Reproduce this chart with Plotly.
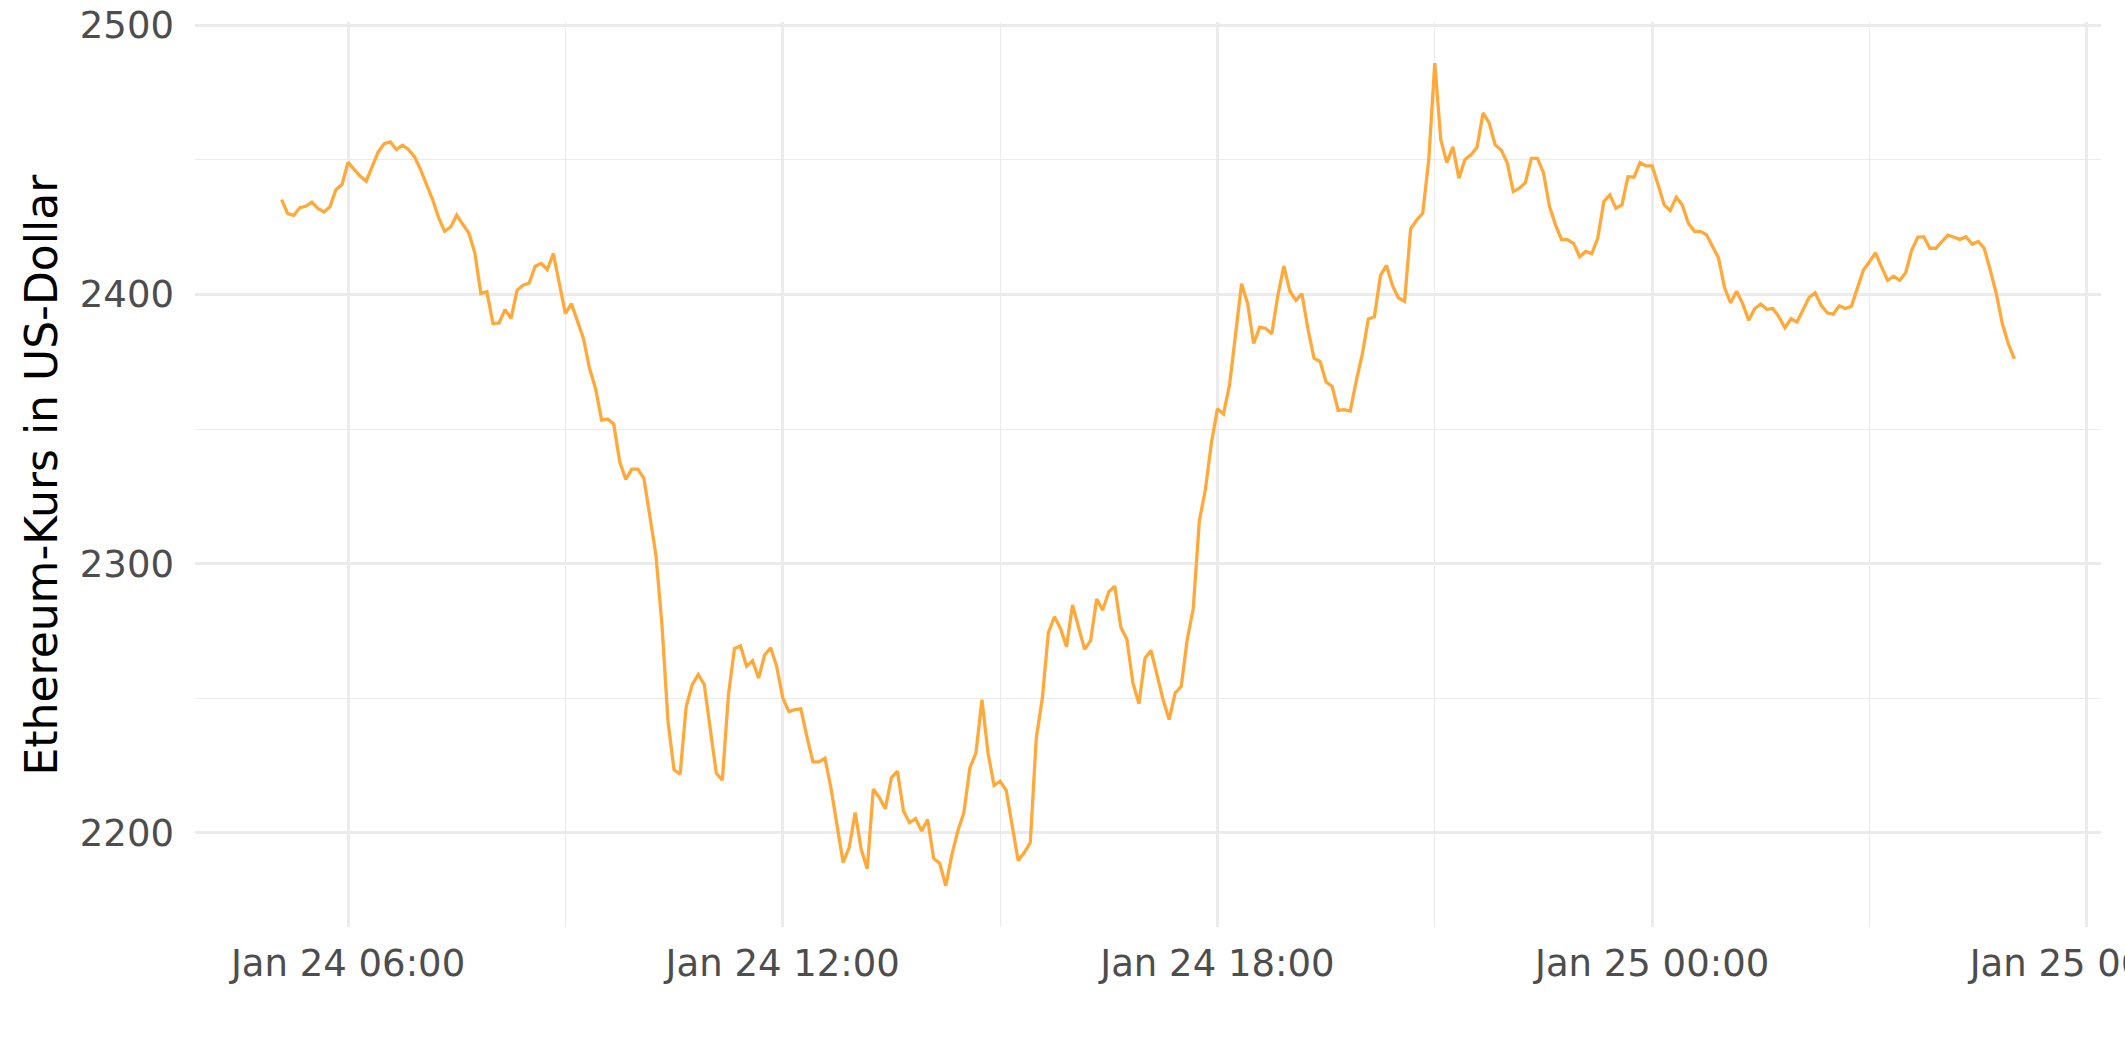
import pandas as pd
import plotly.graph_objects as go

# ---- data (5-minute Ethereum prices) ----
start_time = "2024-01-24 05:05"
interval = "5min"

price_usd = [
    # 05:05 - 09:00
    2435.3, 2430.1, 2429.4, 2432.3, 2432.8, 2434.3, 2432.0, 2430.7, 2432.6, 2439.0, 2440.9, 2449.1,
    2446.5, 2444.0, 2442.1, 2447.7, 2453.0, 2456.1, 2456.7, 2453.9, 2455.5, 2453.9, 2451.2, 2446.5,
    2441.0, 2435.3, 2428.6, 2423.5, 2425.1, 2429.5, 2426.1, 2422.9, 2415.5, 2400.4, 2401.0, 2389.2,
    2389.4, 2394.4, 2391.1, 2401.6, 2403.5, 2404.3, 2410.5, 2411.5, 2409.3, 2415.2, 2404.1, 2392.9,
    # 09:05 - 13:20
    2396.6, 2389.7, 2383.6, 2372.6, 2365.0, 2353.3, 2353.7, 2351.9, 2337.8, 2331.3, 2335.1, 2335.1,
    2331.7, 2317.5, 2303.1, 2277.0, 2241.2, 2223.3, 2221.7, 2246.7, 2255.0, 2258.8, 2255.0, 2238.4,
    2222.0, 2219.5, 2251.1, 2268.4, 2269.4, 2261.8, 2263.9, 2257.4, 2266.0, 2268.7, 2261.8, 2250.1,
    2245.0, 2245.7, 2246.0, 2235.7, 2226.3, 2226.3, 2227.7, 2216.4, 2202.0, 2188.9, 2194.4, 2207.5,
    2193.7, 2186.6, 2216.2, 2213.0,
    # 13:25 - 17:30
    2208.9, 2220.4, 2222.8, 2208.0, 2203.7, 2205.2, 2200.6, 2204.9, 2190.4, 2188.6, 2180.2, 2191.6,
    2200.6, 2207.4, 2224.1, 2229.6, 2249.4, 2229.6, 2217.5, 2219.1, 2215.8, 2203.1, 2189.5, 2192.6,
    2196.3, 2235.2, 2250.0, 2274.3, 2280.2, 2275.9, 2269.1, 2284.6, 2276.5, 2268.1, 2271.4, 2286.8,
    2282.7, 2289.5, 2291.6, 2276.3, 2271.9, 2255.6, 2247.9, 2264.8, 2267.7, 2258.6, 2249.4, 2242.0,
    2251.9, 2254.3,
    # 17:35 - 21:00
    2271.8, 2283.4, 2315.8, 2327.4, 2344.8, 2357.5, 2355.6, 2366.3, 2386.2, 2404.0, 2396.7, 2381.8,
    2387.9, 2387.4, 2385.4, 2399.5, 2410.6, 2401.2, 2397.8, 2400.3, 2387.1, 2376.3, 2375.1, 2367.5,
    2365.8, 2356.9, 2357.2, 2356.7, 2368.0, 2377.9, 2390.9, 2391.7, 2407.0, 2410.8, 2403.3, 2398.7,
    2397.5, 2424.4, 2427.7, 2430.2, 2450.0, 2486.0,
    # 21:05 - 00:00
    2457.4, 2449.0, 2454.9, 2443.2, 2450.2, 2451.9, 2454.7, 2467.5, 2463.8, 2455.6, 2453.7, 2449.0,
    2438.3, 2439.5, 2441.6, 2450.6, 2450.6, 2445.3, 2432.7, 2425.9, 2420.4, 2420.4, 2418.9, 2414.0,
    2416.0, 2415.2, 2421.0, 2434.6, 2437.0, 2432.1, 2433.3, 2443.8, 2443.6, 2449.0, 2447.8, 2447.8,
    # 00:05 - 01:10
    2440.7, 2433.3, 2431.2, 2436.2, 2433.3, 2426.5, 2423.5, 2423.5, 2422.2, 2417.9, 2413.6, 2402.5,
    2396.9, 2401.2,
    # 01:15 - 05:00
    2396.6, 2390.4, 2394.8, 2396.4, 2394.5, 2394.8, 2391.7, 2387.6, 2391.0, 2389.8, 2394.4, 2398.9,
    2400.6, 2396.0, 2393.2, 2392.7, 2395.8, 2394.8, 2395.6, 2402.2, 2409.1, 2412.2, 2415.5, 2410.3,
    2405.3, 2406.8, 2405.3, 2408.1, 2416.5, 2421.3, 2421.5, 2417.2, 2417.2, 2419.7, 2422.1, 2421.3,
    2420.5, 2421.5, 2418.7, 2419.7, 2417.2, 2409.1, 2400.4, 2389.2, 2381.7, 2376.1,
]

timestamps = pd.date_range(start=start_time, periods=len(price_usd), freq=interval)

y_tick_values = [2200, 2300, 2400, 2500]
y_title = "Ethereum-Kurs in US-Dollar"

# ---- figure ----
W, H = 2125, 1062
ML, MR, MT, MB = 195, 24, 22, 135

t0, t1 = timestamps[0], timestamps[-1]
pad_t = (t1 - t0) * 0.05
x_range = [t0 - pad_t, t1 + pad_t]
vmin, vmax = min(price_usd), max(price_usd)
pad_v = (vmax - vmin) * 0.05
y_range = [vmin - pad_v, vmax + pad_v]

grid_col = "#EBEBEB"
font_fam = "DejaVu Sans"
tick_size = 37
title_size = 44

fig = go.Figure()
fig.add_trace(go.Scatter(
    x=timestamps, y=price_usd, mode="lines",
    line=dict(color="#FFA93A", width=3.3),
    hoverinfo="x+y", showlegend=False,
))

fig.update_layout(
    width=W, height=H,
    margin=dict(l=ML, r=MR, t=MT, b=MB, autoexpand=False),
    paper_bgcolor="white", plot_bgcolor="white",
    font=dict(family=font_fam, color="#4D4D4D"),
    showlegend=False,
)

fig.update_xaxes(
    type="date", range=x_range, automargin=False,
    tick0="2024-01-24 00:00", dtick=6 * 3600 * 1000,
    tickformat="%b %d %H:%M",
    tickfont=dict(size=tick_size, color="#4D4D4D", family=font_fam),
    ticks="", ticklabelstandoff=11, ticklabeloverflow="allow",
    showgrid=True, gridcolor=grid_col, gridwidth=2.8,
    minor=dict(dtick=3 * 3600 * 1000, tick0="2024-01-24 00:00",
               showgrid=True, gridcolor=grid_col, gridwidth=1.4),
    showline=False, zeroline=False,
)
fig.update_yaxes(
    range=y_range, automargin=False,
    tickvals=y_tick_values,
    tickfont=dict(size=tick_size, color="#4D4D4D", family=font_fam),
    ticks="", ticklabelstandoff=20,
    showgrid=True, gridcolor=grid_col, gridwidth=2.8,
    minor=dict(dtick=50, tick0=2150, showgrid=True, gridcolor=grid_col, gridwidth=1.4),
    showline=False, zeroline=False,
)

fig.add_annotation(
    text=y_title, textangle=-90,
    xref="paper", yref="paper",
    x=(41 - ML) / (W - ML - MR), y=0.5,
    xanchor="center", yanchor="middle", showarrow=False,
    font=dict(size=title_size, color="black", family=font_fam),
)

fig.write_html(
    "out.html",
    config={"displayModeBar": False},
    post_script="document.body.style.margin='0';document.body.style.overflow='hidden';",
)
